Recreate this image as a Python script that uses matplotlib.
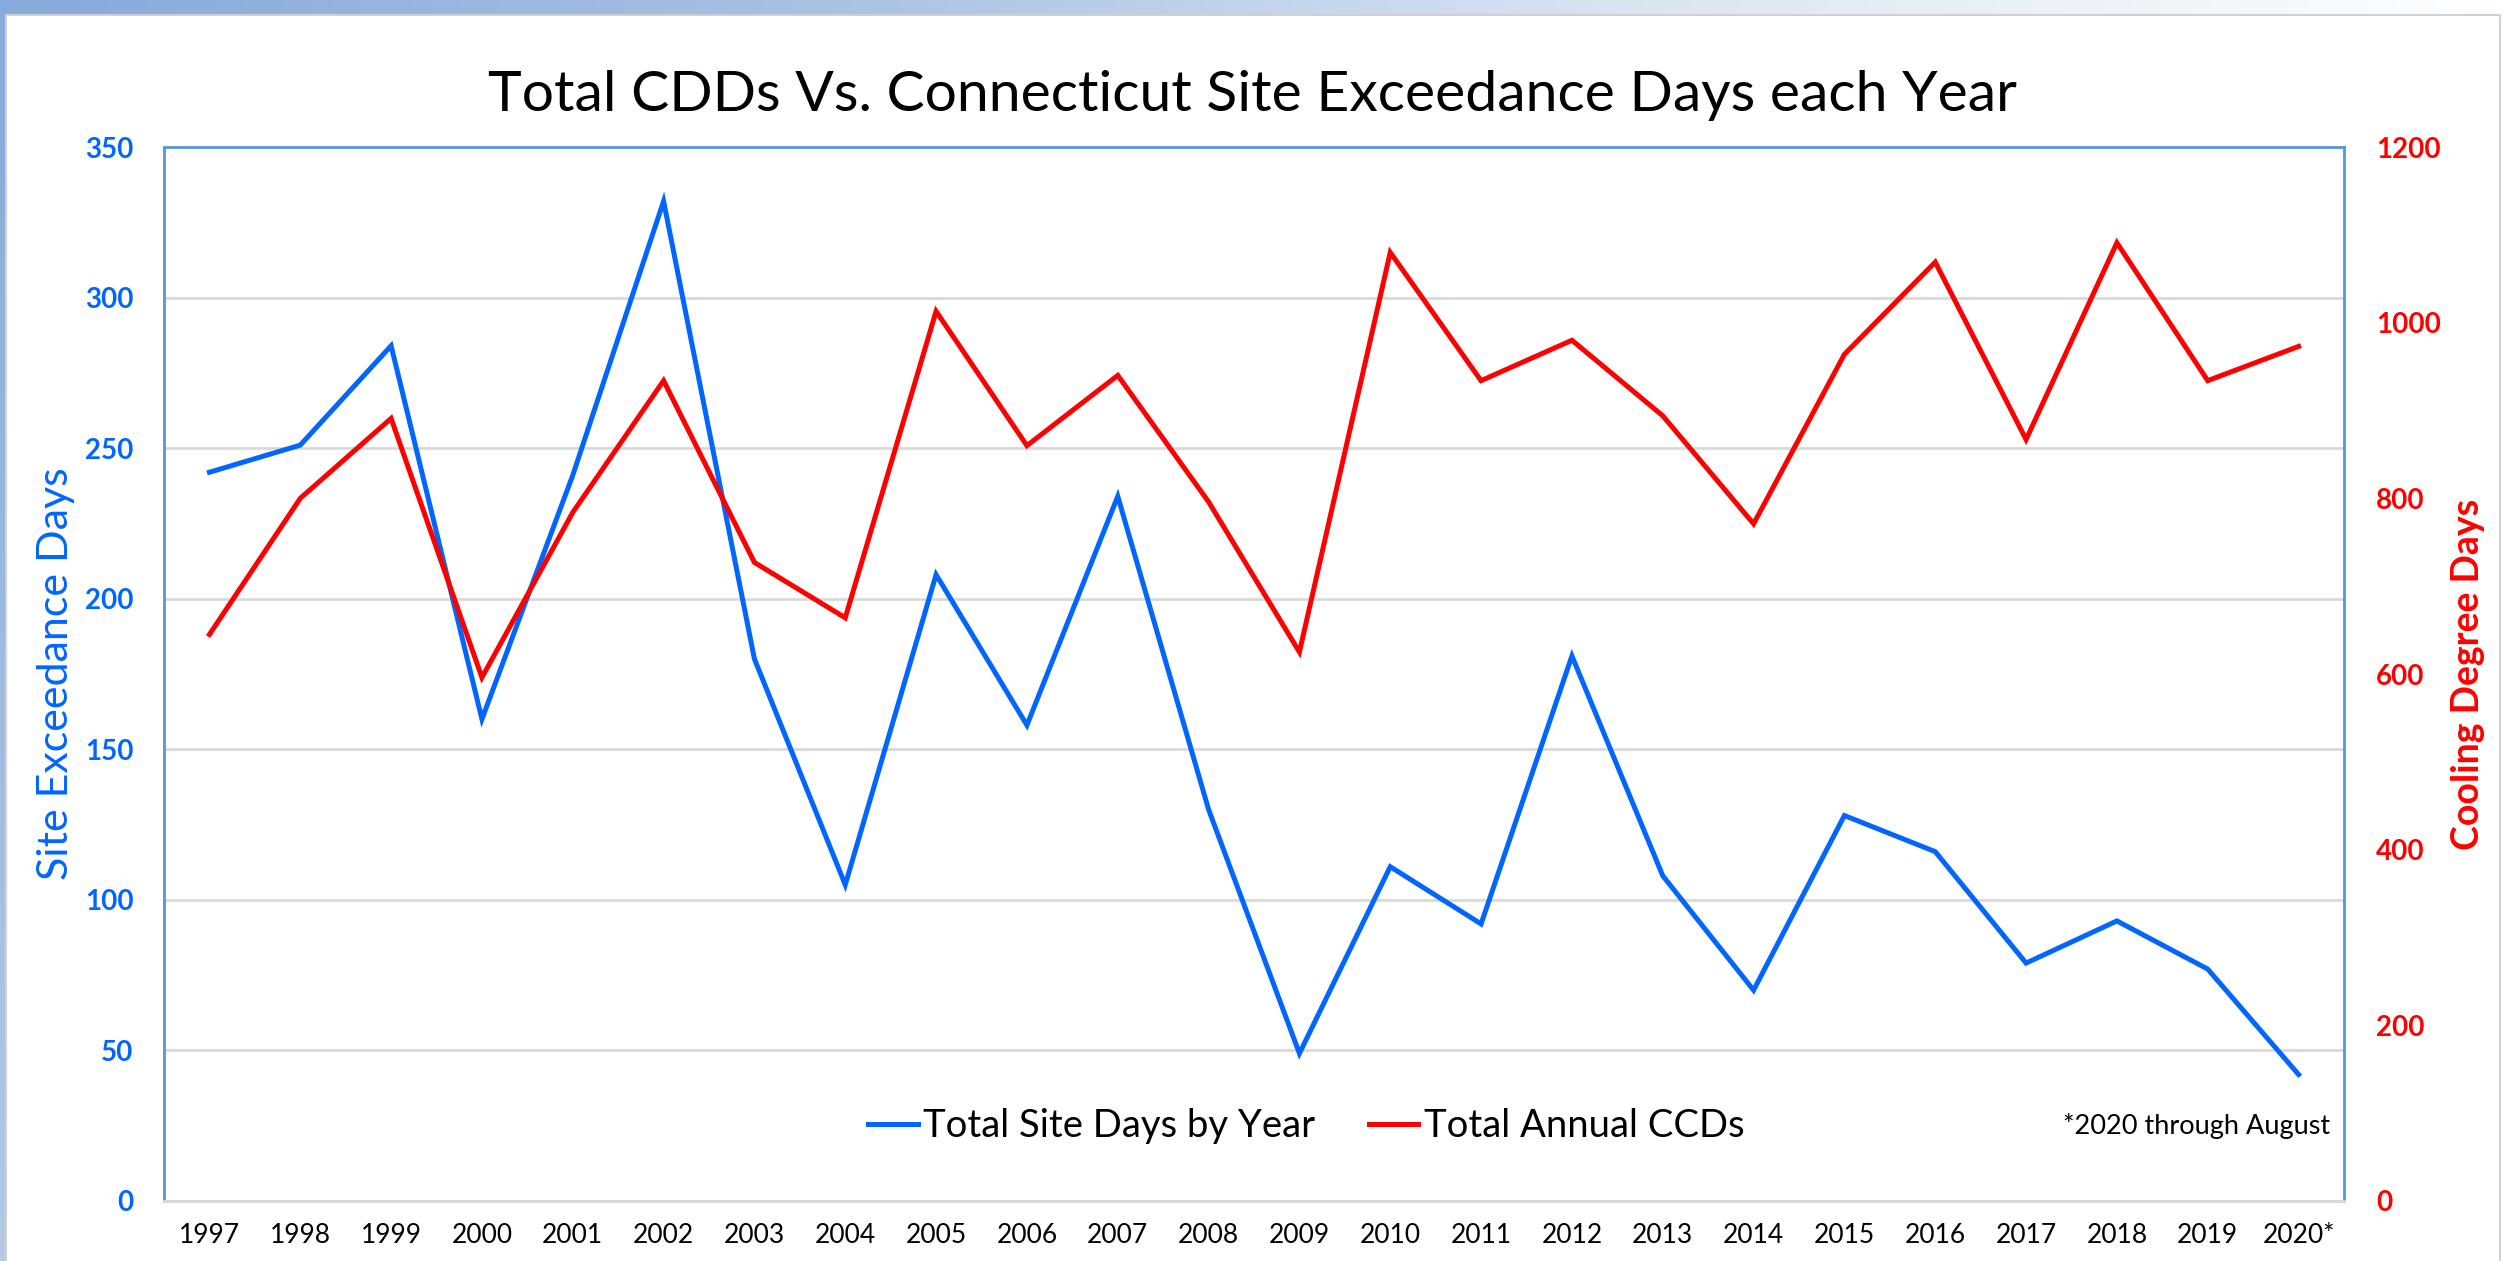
import numpy as np
import matplotlib.pyplot as plt
from matplotlib.lines import Line2D
from matplotlib.colors import LinearSegmentedColormap

# Data
years = ["1997", "1998", "1999", "2000", "2001", "2002", "2003", "2004",
         "2005", "2006", "2007", "2008", "2009", "2010", "2011", "2012",
         "2013", "2014", "2015", "2016", "2017", "2018", "2019", "2020*"]
site_days = [242, 251, 284, 160, 241, 332, 180, 105, 208, 158, 234, 130,
             49, 111, 92, 181, 108, 70, 128, 116, 79, 93, 77, 42]
annual_cdds = [645, 800, 891, 596, 784, 934, 727, 664, 1013, 860, 940, 796,
               625, 1080, 934, 980, 894, 771, 964, 1069, 867, 1091, 934, 973]

plt.rcParams['font.family'] = ['Lato', 'DejaVu Sans']

BLUE = '#0066FF'
RED = '#FF0000'
FRAME = '#5B9BD5'
GRID = '#D9D9D9'

fig = plt.figure(figsize=(25.04, 12.61), dpi=100)

# slide-like background: blue gradient band on top and left edge
bg = fig.add_axes([0, 0, 1, 1], zorder=-10)
bg.set_xlim(0, 2504)
bg.set_ylim(1261, 0)
bg.axis('off')
bg.imshow(np.linspace(0, 1, 256)[None, :],
          cmap=LinearSegmentedColormap.from_list('band', ['#86AADA', '#A9C2E4', '#DCE6F2', '#FFFFFF']),
          extent=[0, 2504, 14, 0], aspect='auto')
bg.imshow(np.linspace(0, 1, 64)[:, None],
          cmap=LinearSegmentedColormap.from_list('lband', ['#86AADA', '#B4C8E4']),
          extent=[0, 6, 1261, 0], aspect='auto')
bg.plot([6, 2500, 2500], [15, 15, 1261], color='#D0D0D0', lw=1.5)
bg.plot([6, 6], [15, 1261], color='#D0D0D0', lw=1.5)

ax = fig.add_axes([0.0655, 0.0476, 0.8706, 0.8358])
ax2 = ax.twinx()

x = np.arange(len(years))
ax.plot(x, site_days, color=BLUE, lw=3.6, solid_joinstyle='miter', zorder=3)
ax2.plot(x, annual_cdds, color=RED, lw=3.6, solid_joinstyle='miter', zorder=3)

ax.set_xlim(-0.5, len(years) - 0.5)
ax.set_ylim(0, 350)
ax.set_yticks(range(0, 351, 50))
ax2.set_ylim(0, 1200)
ax2.set_yticks(range(0, 1201, 200))

ax.set_xticks(x)
ax.set_xticklabels(years, fontsize=19)
ax.tick_params(axis='x', length=0, pad=16)
ax.tick_params(axis='y', length=0, pad=22, labelsize=20, labelcolor=BLUE)
ax2.tick_params(axis='y', length=0, pad=23, labelsize=20, labelcolor=RED)
for lab in ax.get_yticklabels() + ax2.get_yticklabels():
    lab.set_fontweight('bold')

ax.grid(axis='y', color=GRID, lw=2, zorder=0)
ax.set_axisbelow(True)

for a in (ax, ax2):
    for side in ('left', 'right', 'top'):
        a.spines[side].set_color(FRAME)
        a.spines[side].set_linewidth(1.8)
    a.spines['bottom'].set_color(GRID)
    a.spines['bottom'].set_linewidth(2)

ax.set_ylabel("Site Exceedance Days", color=BLUE, fontsize=31)
ax.yaxis.set_label_coords(-0.041, 0.5)
ax2.set_ylabel("Cooling Degree Days", color=RED, fontsize=27, fontweight='bold')
ax2.yaxis.set_label_coords(1.049, 0.5)

fig.text(0.5, 0.924, "Total CDDs Vs. Connecticut Site Exceedance Days each Year",
         ha='center', va='center', fontsize=41)

handles = [Line2D([], [], color=BLUE, lw=3.6), Line2D([], [], color=RED, lw=3.6)]
ax2.legend(handles, ["Total Site Days by Year", "Total Annual CCDs"],
           loc='center', bbox_to_anchor=(0.524, 0.071), ncol=2, frameon=False,
           fontsize=27.5, handlelength=1.3, handletextpad=0.15, columnspacing=1.4)

ax2.text(0.9935, 0.071, "*2020 through August", transform=ax2.transAxes,
         ha='right', va='center', fontsize=19.5)

fig.savefig("out.png", dpi=100)
